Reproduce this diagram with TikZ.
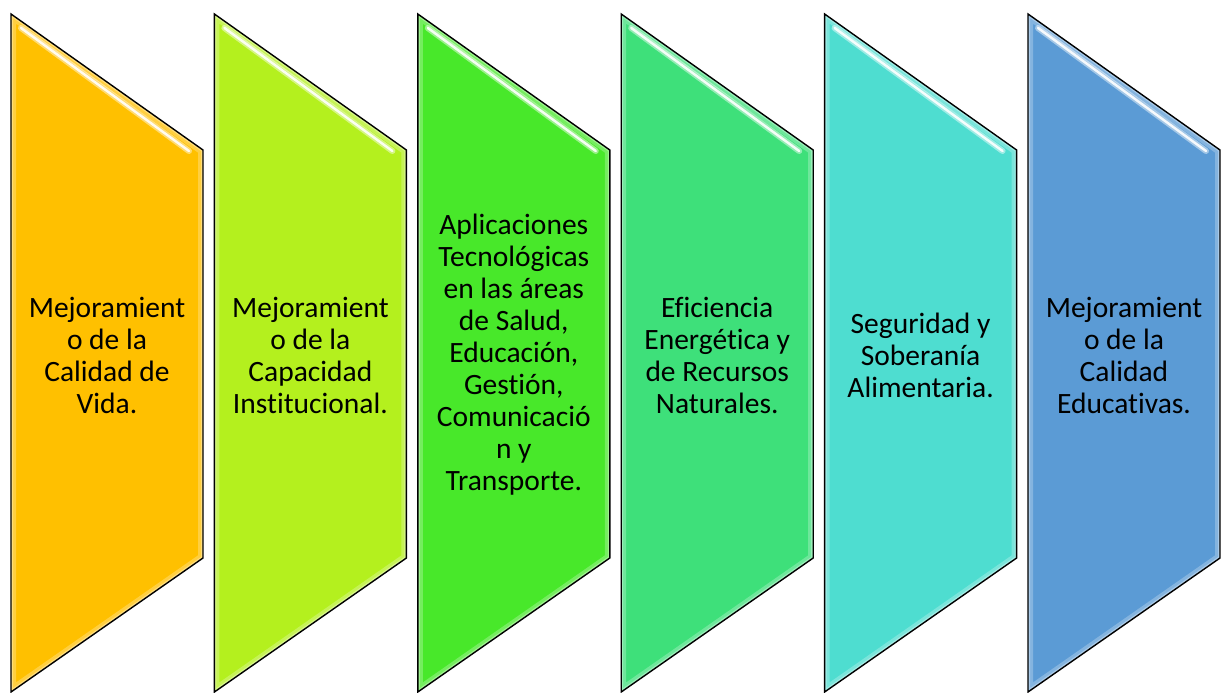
\documentclass[tikz,border=0pt]{standalone}
\usepackage{fontspec}
\setmainfont[Ligatures=NoCommon]{Carlito}

\definecolor{c1}{RGB}{255,192,0}
\definecolor{c2}{RGB}{180,240,30}
\definecolor{c3}{RGB}{72,232,42}
\definecolor{c4}{RGB}{62,224,122}
\definecolor{c5}{RGB}{78,221,208}
\definecolor{c6}{RGB}{91,155,213}

\begin{document}
\begin{tikzpicture}[x=1pt,y=-1pt]

\tikzset{panel/.style = {draw=black,line width=1.4pt,line join=miter}}
\tikzset{label/.style = {align=center,font=\fontsize{29.5}{32}\selectfont}}
\tikzset{shine/.style = {white,line cap=round}}

\useasboundingbox (0,0) rectangle (1223,693);

%panels
\foreach \i/\col in {0/c1,1/c2,2/c3,3/c4,4/c5,5/c6}{
  \pgfmathsetmacro{\L}{11+203.4*\i}
  \begin{scope}
    \clip (\L,14) -- ++(192,136) -- ++(0,408) -- (\L,692) -- cycle;
    \fill[\col] (\L,0) rectangle ++(192,693);
    \draw[white,opacity=0.25,line width=10pt] (\L,14) -- ++(192,136) -- ++(0,408) -- (\L,692) -- cycle;
    \draw[white,opacity=0.3,line width=4pt] (\L,14) -- ++(192,136) -- ++(0,408) -- (\L,692) -- cycle;
  \end{scope}
  \draw[shine,opacity=0.45,line width=6pt] (\L+10,28) -- (\L+178,151);
  \draw[shine,opacity=0.9,line width=2.4pt] (\L+10,28) -- (\L+178,151);
  \draw[panel] (\L,14) -- ++(192,136) -- ++(0,408) -- (\L,692) -- cycle;
}

%labels
\node[label] (txt1) at (107,355) {Mejoramient\\o de la\\Calidad de\\Vida.};
\node[label] (txt2) at (310.4,355) {Mejoramient\\o de la\\Capacidad\\Institucional.};
\node[label] (txt3) at (513.8,355) {Aplicaciones\\Tecnológicas\\en las áreas\\de Salud,\\Educación,\\Gestión,\\Comunicació\\n y\\Transporte.};
\node[label] (txt4) at (717.2,355) {Eficiencia\\Energética y\\de Recursos\\Naturales.};
\node[label] (txt5) at (920.6,355) {Seguridad y\\Soberanía\\Alimentaria.};
\node[label] (txt6) at (1124,355) {Mejoramient\\o de la\\Calidad\\Educativas.};

\end{tikzpicture}
\end{document}
